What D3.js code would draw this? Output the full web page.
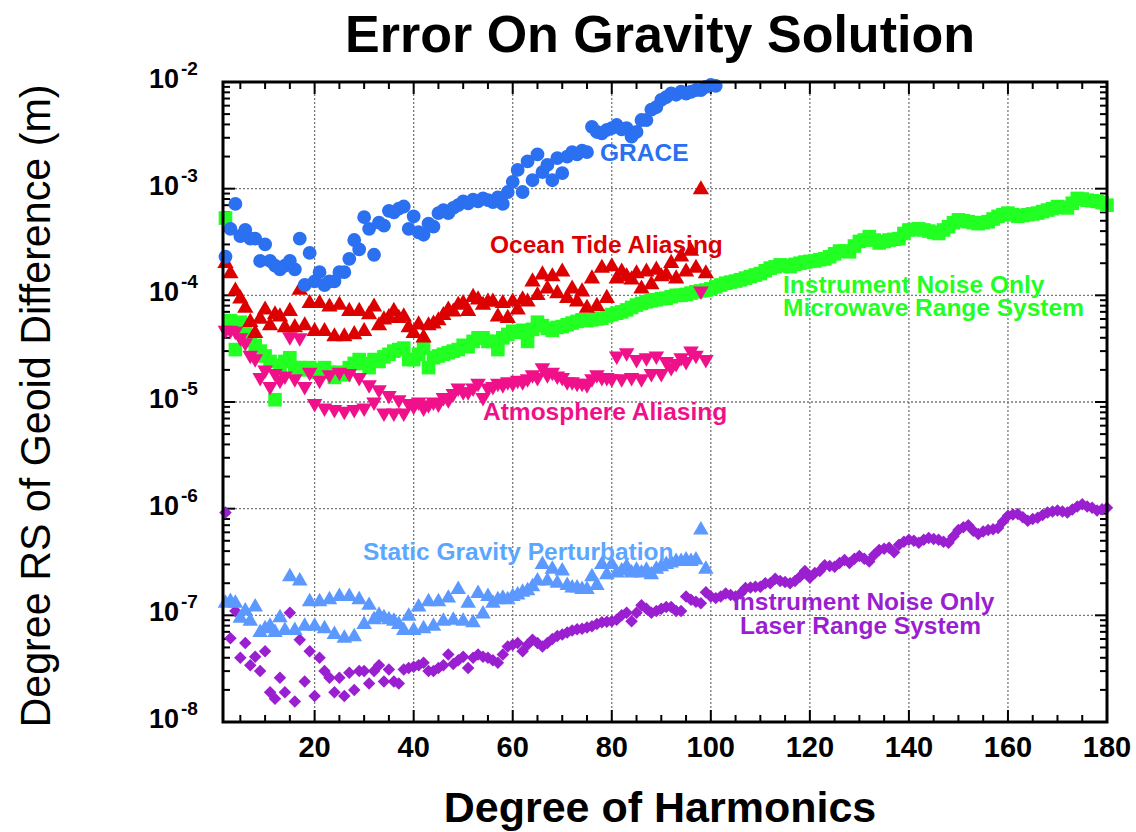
<!DOCTYPE html>
<html>
<head>
<meta charset="utf-8">
<script src="https://cdn.jsdelivr.net/npm/d3@7"></script>
<style>
  body { margin: 0; background: #fff; }
  text { font-family: "Liberation Sans", Arial, Helvetica, sans-serif; }
</style>
</head>
<body>
<svg id="chart" width="1136" height="832"></svg>
<script>
// degree of harmonics starts at 2 for every series
var firstDegree = 2;

var grace = [
  2.3e-4, 4.2e-4, 7.2e-4, 3.6e-4, 4.1e-4, 3.4e-4, 3.4e-4, 2.1e-4, 3.0e-4, 2.1e-4,
  1.9e-4, 1.75e-4, 1.9e-4, 2.1e-4, 1.75e-4, 3.4e-4, 1.25e-4, 2.5e-4, 1.35e-4, 1.65e-4,
  1.25e-4, 1.35e-4, 1.35e-4, 1.65e-4, 1.65e-4, 2.2e-4, 3.3e-4, 2.7e-4, 5.4e-4, 4.2e-4,
  2.4e-4, 4.8e-4, 4.5e-4, 6.2e-4, 6.0e-4, 6.5e-4, 6.8e-4, 4.2e-4, 5.5e-4, 3.9e-4,
  3.7e-4, 4.7e-4, 4.4e-4, 5.9e-4, 6.3e-4, 5.9e-4, 6.6e-4, 7.0e-4, 7.6e-4, 7.3e-4,
  7.9e-4, 7.6e-4, 8.1e-4, 7.8e-4, 7.5e-4, 8.3e-4, 7.2e-4, 9.3e-4, 1.16e-3, 1.5e-3,
  9.3e-4, 1.8e-3, 1.2e-3, 2.1e-3, 1.43e-3, 1.67e-3, 1.2e-3, 1.93e-3, 1.4e-3, 2.0e-3,
  2.2e-3, 2.1e-3, 2.27e-3, 2.2e-3, 3.8e-3, 3.4e-3, 3.3e-3, 3.55e-3, 3.7e-3, 3.95e-3,
  3.6e-3, 3.7e-3, 3.07e-3, 3.4e-3, 4.4e-3, 4.4e-3, 5.5e-3, 5.8e-3, 6.8e-3, 7.2e-3,
  7.8e-3, 7.6e-3, 8.1e-3, 7.8e-3, 8.1e-3, 8.4e-3, 8.4e-3, 9.0e-3, 9.4e-3, 9.2e-3
];

var oceanTide = [
  2.0e-4, 1.6e-4, 1.1e-4, 9.3e-5, 7.6e-5, 5.6e-5, 4.4e-5, 6.0e-5, 7.3e-5, 5.2e-5,
  6.6e-5, 6.3e-5, 5.0e-5, 7.1e-5, 5.0e-5, 1.12e-4, 5.2e-5, 8.4e-5, 4.6e-5, 8.4e-5,
  4.6e-5, 7.8e-5, 4.1e-5, 8.1e-5, 4.1e-5, 7.1e-5, 4.3e-5, 7.1e-5, 4.6e-5, 6.6e-5,
  7.8e-5, 5.2e-5, 5.9e-5, 6.2e-5, 7.1e-5, 6.1e-5, 6.3e-5, 5.0e-5, 4.4e-5, 5.3e-5,
  4.0e-5, 5.2e-5, 5.4e-5, 5.8e-5, 6.5e-5, 7.3e-5, 7.0e-5, 8.1e-5, 8.4e-5, 7.1e-5,
  9.6e-5, 9.1e-5, 8.1e-5, 8.7e-5, 8.7e-5, 6.3e-5, 8.4e-5, 6.1e-5, 8.7e-5, 7.3e-5,
  9.1e-5, 8.7e-5, 1.34e-4, 1.0e-4, 1.56e-4, 1.15e-4, 1.5e-4, 1.04e-4, 1.66e-4, 9.4e-5,
  1.15e-4, 8.7e-5, 1.08e-4, 7.6e-5, 1.43e-4, 7.9e-5, 1.8e-4, 9.4e-5, 1.86e-4, 1.43e-4,
  1.66e-4, 1.5e-4, 1.4e-4, 1.6e-4, 1.15e-4, 1.66e-4, 1.26e-4, 1.73e-4, 1.5e-4, 1.55e-4,
  2.0e-4, 1.43e-4, 2.3e-4, 1.66e-4, 2.6e-4, 1.8e-4, 9.8e-4, 1.6e-4
];

var microwave = [
  5.3e-4, 5.8e-5, 3.1e-5, 5.6e-5, 4.6e-5, 3.8e-5, 3.4e-5, 3.0e-5, 2.7e-5, 2.4e-5,
  1.05e-5, 2.2e-5, 2.4e-5, 2.6e-5, 2.1e-5, 2.1e-5, 2.0e-5, 2.1e-5, 1.9e-5, 2.0e-5,
  2.1e-5, 1.9e-5, 1.7e-5, 1.9e-5, 1.8e-5, 2.1e-5, 2.3e-5, 2.5e-5, 2.3e-5, 2.1e-5,
  2.5e-5, 2.4e-5, 2.65e-5, 2.8e-5, 3.0e-5, 3.1e-5, 3.2e-5, 2.5e-5, 2.5e-5, 2.8e-5,
  3.2e-5, 2.1e-5, 2.6e-5, 2.7e-5, 2.8e-5, 2.9e-5, 3.0e-5, 3.1e-5, 3.4e-5, 3.3e-5,
  3.7e-5, 4.0e-5, 4.0e-5, 3.7e-5, 3.7e-5, 3.1e-5, 4.0e-5, 4.3e-5, 4.6e-5, 4.5e-5,
  4.7e-5, 3.7e-5, 4.8e-5, 5.6e-5, 5.2e-5, 4.9e-5, 4.7e-5, 5.0e-5, 5.1e-5, 5.3e-5,
  5.5e-5, 5.7e-5, 5.9e-5, 5.8e-5, 5.9e-5, 6.0e-5, 6.1e-5, 6.4e-5, 6.6e-5, 6.8e-5,
  7.0e-5, 7.3e-5, 7.7e-5, 8.1e-5, 8.4e-5, 8.7e-5, 8.9e-5, 9.1e-5, 9.3e-5, 9.4e-5,
  9.7e-5, 1.0e-4, 1.0e-4, 1.02e-4, 1.05e-4, 1.08e-4, 1.1e-4, 1.12e-4, 1.15e-4, 1.2e-4,
  1.25e-4, 1.3e-4, 1.33e-4, 1.36e-4, 1.4e-4, 1.45e-4, 1.5e-4, 1.55e-4, 1.6e-4, 1.7e-4,
  1.8e-4, 1.85e-4, 1.93e-4, 1.9e-4, 1.86e-4, 1.95e-4, 2.0e-4, 2.05e-4, 2.08e-4, 2.1e-4,
  2.16e-4, 2.2e-4, 2.3e-4, 2.45e-4, 2.6e-4, 2.6e-4, 2.56e-4, 2.9e-4, 3.2e-4, 3.3e-4,
  3.55e-4, 3.3e-4, 3.1e-4, 3.2e-4, 3.3e-4, 3.35e-4, 3.4e-4, 3.8e-4, 4.1e-4, 4.15e-4,
  4.2e-4, 4.1e-4, 4.0e-4, 3.9e-4, 3.8e-4, 4.1e-4, 4.4e-4, 4.8e-4, 5.1e-4, 5.0e-4,
  4.9e-4, 4.8e-4, 4.7e-4, 4.8e-4, 4.9e-4, 5.2e-4, 5.5e-4, 5.7e-4, 5.9e-4, 5.7e-4,
  5.5e-4, 5.6e-4, 5.7e-4, 5.8e-4, 5.9e-4, 6.1e-4, 6.3e-4, 6.5e-4, 6.8e-4, 6.7e-4,
  6.6e-4, 7.3e-4, 8.1e-4, 8.0e-4, 7.8e-4, 7.7e-4, 7.6e-4, 7.4e-4, 7.0e-4
];

var atmosphere = [
  4.7e-5, 4.7e-5, 4.6e-5, 4.0e-5, 3.6e-5, 2.75e-5, 2.55e-5, 1.7e-5, 2.0e-5, 1.4e-5,
  1.85e-5, 1.6e-5, 1.75e-5, 4.1e-5, 1.65e-5, 4.0e-5, 1.4e-5, 1.9e-5, 9.7e-6, 1.6e-5,
  8.8e-6, 1.8e-5, 8.5e-6, 1.9e-5, 8.2e-6, 1.85e-5, 8.5e-6, 1.7e-5, 8.8e-6, 1.45e-5,
  1.0e-5, 1.3e-5, 7.9e-6, 1.15e-5, 7.9e-6, 1.05e-5, 7.9e-6, 9.7e-6, 9.1e-6, 1.0e-5,
  8.8e-6, 9.4e-6, 1.0e-5, 9.6e-6, 1.1e-5, 1.05e-5, 1.2e-5, 1.35e-5, 1.25e-5, 1.25e-5,
  1.35e-5, 1.5e-5, 1.1e-5, 1.35e-5, 1.4e-5, 1.5e-5, 1.45e-5, 1.55e-5, 1.5e-5, 1.6e-5,
  1.55e-5, 1.65e-5, 1.8e-5, 1.7e-5, 2.1e-5, 1.8e-5, 1.9e-5, 1.75e-5, 1.7e-5, 1.55e-5,
  1.55e-5, 1.5e-5, 1.5e-5, 1.45e-5, 1.65e-5, 1.8e-5, 1.7e-5, 1.7e-5, 1.65e-5, 2.7e-5,
  1.65e-5, 2.9e-5, 1.7e-5, 2.5e-5, 1.65e-5, 2.6e-5, 1.85e-5, 2.7e-5, 1.85e-5, 2.4e-5,
  2.1e-5, 2.3e-5, 2.6e-5, 2.4e-5, 3.0e-5, 2.75e-5, 1.1e-4, 2.5e-5
];

var staticGravity = [
  1.3e-7, 1.35e-7, 1.3e-7, 9.4e-8, 1.1e-7, 8.8e-8, 1.2e-7, 6.9e-8, 7.5e-8, 7.9e-8,
  6.9e-8, 9.5e-8, 7.2e-8, 2.3e-7, 7.2e-8, 2.1e-7, 7.9e-8, 1.34e-7, 7.9e-8, 1.34e-7,
  7.5e-8, 1.4e-7, 6.6e-8, 1.5e-7, 6.1e-8, 1.5e-7, 6.3e-8, 1.4e-7, 8.2e-8, 1.24e-7,
  9.1e-8, 1.0e-7, 9.5e-8, 9.1e-8, 8.8e-8, 8.2e-8, 7.2e-8, 9.8e-8, 7.2e-8, 1.2e-7,
  7.5e-8, 1.34e-7, 7.9e-8, 1.34e-7, 8.8e-8, 1.45e-7, 9.0e-8, 1.75e-7, 8.8e-8, 1.3e-7,
  8.5e-8, 1.6e-7, 1.03e-7, 1.5e-7, 1.3e-7, 1.4e-7, 1.45e-7, 1.4e-7, 1.5e-7, 1.55e-7,
  1.65e-7, 1.7e-7, 1.85e-7, 2.1e-7, 3.0e-7, 2.1e-7, 2.7e-7, 2.0e-7, 2.6e-7, 1.9e-7,
  1.8e-7, 1.8e-7, 1.75e-7, 1.75e-7, 2.3e-7, 1.9e-7, 3.0e-7, 2.4e-7, 3.0e-7, 2.5e-7,
  2.6e-7, 2.85e-7, 2.5e-7, 2.65e-7, 2.5e-7, 2.65e-7, 2.4e-7, 2.7e-7, 2.85e-7, 3.0e-7,
  3.1e-7, 3.2e-7, 3.2e-7, 3.3e-7, 3.2e-7, 3.3e-7, 6.3e-7, 2.7e-7
];

var laser = [
  9.2e-7, 6.1e-8, 1.1e-7, 4.0e-8, 5.5e-8, 3.4e-8, 4.1e-8, 3.0e-8, 4.6e-8, 1.9e-8,
  1.65e-8, 2.6e-8, 1.9e-8, 1.06e-7, 1.56e-8, 5.9e-8, 2.4e-8, 4.6e-8, 1.75e-8, 4.0e-8,
  3.0e-8, 2.6e-8, 1.9e-8, 2.6e-8, 1.75e-8, 2.9e-8, 2.0e-8, 3.0e-8, 3.0e-8, 2.3e-8,
  3.0e-8, 3.4e-8, 2.4e-8, 3.1e-8, 2.4e-8, 2.3e-8, 3.1e-8, 3.2e-8, 3.3e-8, 3.4e-8,
  3.6e-8, 3.0e-8, 3.0e-8, 3.2e-8, 3.4e-8, 4.3e-8, 3.5e-8, 3.8e-8, 4.1e-8, 3.2e-8,
  4.0e-8, 4.3e-8, 4.1e-8, 4.0e-8, 3.8e-8, 3.6e-8, 4.3e-8, 5.1e-8, 5.3e-8, 5.5e-8,
  4.6e-8, 5.3e-8, 5.9e-8, 5.5e-8, 5.1e-8, 5.5e-8, 6.0e-8, 6.4e-8, 6.6e-8, 6.9e-8,
  7.2e-8, 7.4e-8, 7.5e-8, 7.7e-8, 7.9e-8, 8.3e-8, 8.6e-8, 8.7e-8, 8.8e-8, 9.1e-8,
  1.0e-7, 1.06e-7, 8.8e-8, 1.06e-7, 1.24e-7, 1.15e-7, 1.06e-7, 1.1e-7, 1.15e-7, 1.2e-7,
  1.2e-7, 1.1e-7, 1.1e-7, 1.5e-7, 1.4e-7, 1.34e-7, 1.3e-7, 1.65e-7, 1.5e-7, 1.45e-7,
  1.5e-7, 1.6e-7, 1.55e-7, 1.5e-7, 1.6e-7, 1.8e-7, 1.82e-7, 1.85e-7, 1.85e-7, 2.0e-7,
  2.0e-7, 2.2e-7, 2.1e-7, 2.05e-7, 2.0e-7, 2.1e-7, 2.3e-7, 2.6e-7, 2.25e-7, 2.5e-7,
  2.6e-7, 2.95e-7, 2.9e-7, 2.85e-7, 3.1e-7, 3.3e-7, 3.1e-7, 3.4e-7, 3.6e-7, 3.4e-7,
  3.2e-7, 3.7e-7, 4.1e-7, 4.2e-7, 4.3e-7, 3.9e-7, 4.6e-7, 4.9e-7, 5.1e-7, 5.0e-7,
  4.8e-7, 5.1e-7, 5.3e-7, 5.2e-7, 5.1e-7, 4.9e-7, 4.8e-7, 5.5e-7, 6.3e-7, 6.7e-7,
  7.0e-7, 6.2e-7, 5.8e-7, 6.1e-7, 6.3e-7, 6.4e-7, 6.6e-7, 7.6e-7, 8.6e-7, 8.8e-7,
  8.9e-7, 8.3e-7, 7.7e-7, 8.0e-7, 8.2e-7, 8.7e-7, 9.2e-7, 9.4e-7, 9.6e-7, 9.4e-7,
  9.2e-7, 9.8e-7, 1.05e-6, 1.1e-6, 1.05e-6, 1.02e-6, 9.6e-7, 9.9e-7, 1.02e-6
];

var xTickValues = [20, 40, 60, 80, 100, 120, 140, 160, 180];
var yDecades = [-8, -7, -6, -5, -4, -3, -2];

(function() {
  "use strict";

  var svg = d3.select("#chart");
  var plotLeft = 223, plotRight = 1107, plotTop = 82, plotBottom = 722;

  var x = d3.scaleLinear().domain([1.5, 180]).range([plotLeft, plotRight]);
  var y = d3.scaleLog().domain([1e-8, 1e-2]).range([plotBottom, plotTop]);

  // grid
  var grid = svg.append("g").attr("stroke", "#777").attr("stroke-width", 1.3)
    .attr("stroke-dasharray", "2,2");
  grid.selectAll("line.gx").data(xTickValues.slice(0, -1)).enter().append("line")
    .attr("x1", function(d){ return x(d); }).attr("x2", function(d){ return x(d); })
    .attr("y1", plotTop).attr("y2", plotBottom);
  grid.selectAll("line.gy").data(yDecades.slice(1, -1)).enter().append("line")
    .attr("y1", function(d){ return y(Math.pow(10, d)); })
    .attr("y2", function(d){ return y(Math.pow(10, d)); })
    .attr("x1", plotLeft).attr("x2", plotRight);

  // ticks pointing inward on all four sides
  var ticks = svg.append("g").attr("stroke", "#000").attr("stroke-width", 2);
  var minorX = d3.range(5, 180, 5).filter(function(d){ return d % 20 !== 0; });
  function tickX(vals, len) {
    vals.forEach(function(d) {
      ticks.append("line").attr("x1", x(d)).attr("x2", x(d)).attr("y1", plotBottom).attr("y2", plotBottom - len);
      ticks.append("line").attr("x1", x(d)).attr("x2", x(d)).attr("y1", plotTop).attr("y2", plotTop + len);
    });
  }
  tickX(xTickValues, 12);
  tickX(minorX, 7);

  var minorY = [];
  yDecades.slice(0, -1).forEach(function(e) {
    for (var m = 2; m <= 9; m++) minorY.push(m * Math.pow(10, e));
  });
  function tickY(vals, len) {
    vals.forEach(function(d) {
      ticks.append("line").attr("y1", y(d)).attr("y2", y(d)).attr("x1", plotLeft).attr("x2", plotLeft + len);
      ticks.append("line").attr("y1", y(d)).attr("y2", y(d)).attr("x1", plotRight).attr("x2", plotRight - len);
    });
  }
  tickY(yDecades.map(function(e){ return Math.pow(10, e); }), 12);
  tickY(minorY, 7);

  // series, drawn back to front
  var series = [
    { values: microwave, color: "#22ff22", symbol: d3.symbolSquare, size: 185, rotate: 0 },
    { values: laser, color: "#9a1fd0", symbol: d3.symbolSquare, size: 78, rotate: 45 },
    { values: staticGravity, color: "#5b98ff", symbol: d3.symbolTriangle, size: 105, rotate: 0 },
    { values: atmosphere, color: "#f0108a", symbol: d3.symbolTriangle, size: 105, rotate: 180 },
    { values: oceanTide, color: "#dd0000", symbol: d3.symbolTriangle, size: 115, rotate: 0 },
    { values: grace, color: "#2a70f0", symbol: d3.symbolCircle, size: 150, rotate: 0 }
  ];

  series.forEach(function(s) {
    var path = d3.symbol().type(s.symbol).size(s.size)();
    svg.append("g").selectAll("path").data(s.values).enter().append("path")
      .attr("d", path)
      .attr("fill", s.color)
      .attr("transform", function(d, i) {
        return "translate(" + x(i + firstDegree) + "," + y(d) + ") rotate(" + s.rotate + ")";
      });
  });

  // frame
  svg.append("rect").attr("x", plotLeft).attr("y", plotTop)
    .attr("width", plotRight - plotLeft).attr("height", plotBottom - plotTop)
    .attr("fill", "none").attr("stroke", "#000").attr("stroke-width", 3);

  // tick labels
  svg.append("g").selectAll("text").data(xTickValues).enter().append("text")
    .attr("x", function(d){ return x(d); }).attr("y", 757)
    .attr("text-anchor", "middle").attr("font-size", 29).attr("font-weight", "bold")
    .text(function(d){ return d; });

  var yl = svg.append("g").selectAll("text").data(yDecades).enter().append("text")
    .attr("x", 149).attr("y", function(d){ return y(Math.pow(10, d)) + 6; })
    .attr("font-size", 27).attr("font-weight", "bold");
  yl.append("tspan").text("10");
  yl.append("tspan").attr("font-size", 19).attr("dy", -13).attr("dx", 2)
    .text(function(d){ return String(d); });

  // titles
  svg.append("text").attr("x", 660).attr("y", 52).attr("text-anchor", "middle")
    .attr("font-size", 52).attr("font-weight", "bold").text("Error On Gravity Solution");
  svg.append("text").attr("x", 660).attr("y", 822).attr("text-anchor", "middle")
    .attr("font-size", 43).attr("font-weight", "bold").text("Degree of Harmonics");
  svg.append("text").attr("transform", "translate(50,406) rotate(-90)")
    .attr("text-anchor", "middle").attr("font-size", 43)
    .attr("textLength", 643).attr("lengthAdjust", "spacingAndGlyphs")
    .text("Degree RS of Geoid Difference (m)");

  // series labels
  var labels = [
    { text: "GRACE", color: "#2a70f0", x: 600, y: 161 },
    { text: "Ocean Tide Aliasing", color: "#dd0000", x: 490, y: 253 },
    { text: "Instrument Noise Only", color: "#22ff22", x: 783, y: 293 },
    { text: "Microwave Range System", color: "#22ff22", x: 783, y: 316 },
    { text: "Atmosphere Aliasing", color: "#f0108a", x: 483, y: 420 },
    { text: "Static Gravity Perturbation", color: "#5ba6ff", x: 363, y: 560 },
    { text: "Instrument Noise Only", color: "#9a1fd0", x: 733, y: 610 },
    { text: "Laser Range System", color: "#9a1fd0", x: 740, y: 634 }
  ];
  svg.append("g").selectAll("text").data(labels).enter().append("text")
    .attr("x", function(d){ return d.x; }).attr("y", function(d){ return d.y; })
    .attr("fill", function(d){ return d.color; })
    .attr("font-size", 24.5).attr("font-weight", "bold")
    .text(function(d){ return d.text; });
})();
</script>
</body>
</html>
